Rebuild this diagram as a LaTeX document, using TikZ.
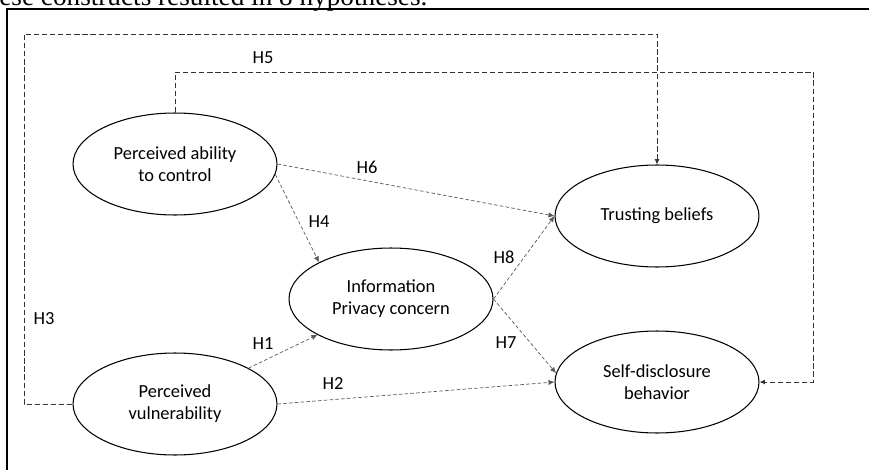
\documentclass[tikz,border=0pt]{standalone}
\usepackage{fontspec}
\setmainfont{Carlito}
\newfontfamily\introfont{Liberation Serif}
\usepackage{tikz}
\usetikzlibrary{shapes,arrows.meta,positioning,calc}

\tikzset{
  construct/.style={draw, ellipse, line width=0.6pt, inner sep=0pt,
    minimum width=4.08cm, minimum height=2.04cm, align=center,
    font=\fontsize{10.5}{12.6}\selectfont},
  hyp/.style={font=\fontsize{10.5}{12.6}\selectfont, inner sep=1pt},
  longpath/.style={draw=black!80, line width=0.55pt, dash pattern=on 3pt off 1.6pt,
    -{Latex[length=3pt,width=2.8pt]}},
  shortpath/.style={draw=black!65, line width=0.4pt, dash pattern=on 2pt off 1.3pt,
    -{Latex[length=3.4pt,width=3pt]}}
}

\begin{document}
\begin{tikzpicture}[x=0.02cm, y=-0.02cm]
    \useasboundingbox (0,0) rectangle (869,470);

    % text above the figure (cut off)
    \node [anchor=base west, inner sep=0pt, font=\introfont\fontsize{15.5}{18}\selectfont] (intro) at (-1,5.5) {ese constructs resulted in 8 hypotheses.};

    % frame
    \draw [line width=1.6pt] (7,480) -- (7,9) -- (880,9);

    % constructs
    \node [construct] (pac) at (175,164) {Perceived ability\\to control};
    \node [construct] (pv) at (175,404) {Perceived\\vulnerability};
    \node [construct] (ipc) at (391,299) {Information\\Privacy concern};
    \node [construct] (tb) at (657,216) {Trusting beliefs};
    \node [construct] (sdb) at (657,382) {Self-disclosure\\behavior};

    % corners of the outer paths
    \coordinate (h3corner) at (24,34);
    \coordinate (h5corner) at (813,72);

    % outer paths
    \draw [longpath] (pv.west) -| (h3corner) -| (tb.north);
    \draw [longpath] (pac.north) |- (h5corner) |- (sdb.east);
    \node [hyp] (h3) at (44,319) {H3};
    \node [hyp] (h5) at (263,58) {H5};

    % inner paths
    \draw [shortpath] (pv.26) -- (ipc.206);
    \draw [shortpath] (pv.east) -- (sdb.west);
    \draw [shortpath] (pac.-6) -- (ipc.153);
    \draw [shortpath] (pac.east) -- (tb.west);
    \draw [shortpath] (ipc.east) -- (tb.west);
    \draw [shortpath] (ipc.east) -- (sdb.175);
    \node [hyp] (h1) at (263,344) {H1};
    \node [hyp] (h2) at (333,384) {H2};
    \node [hyp] (h4) at (319,222) {H4};
    \node [hyp] (h6) at (367,167) {H6};
    \node [hyp] (h7) at (506,343) {H7};
    \node [hyp] (h8) at (504,257) {H8};
\end{tikzpicture}
\end{document}
